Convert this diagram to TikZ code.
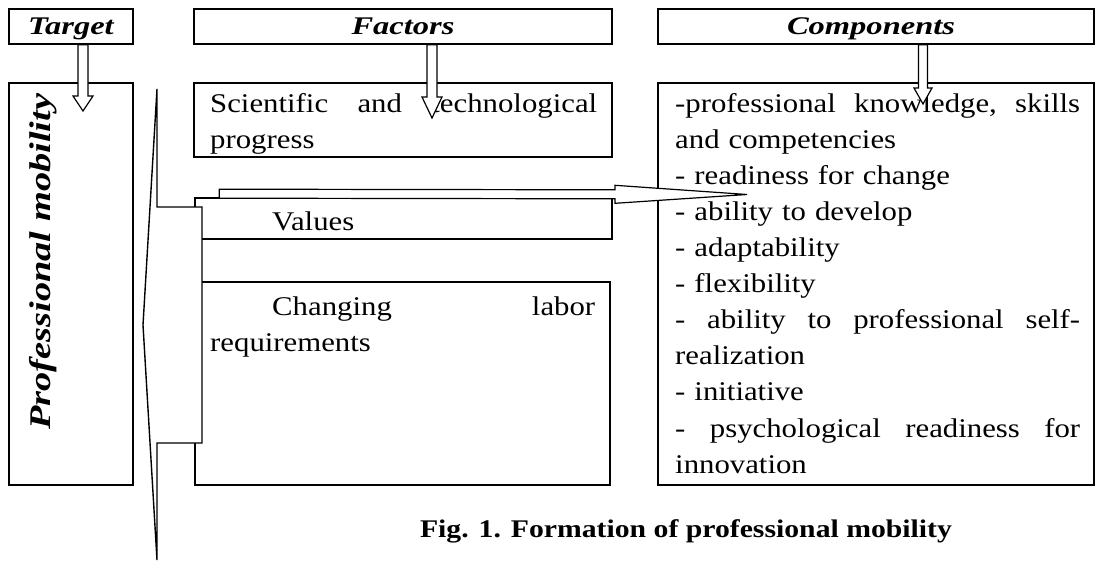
\documentclass[tikz,border=0pt]{standalone}
\usepackage{fontspec}
\setmainfont{Liberation Serif}[
  UprightFeatures={FakeStretch=1.14},
  BoldFeatures={FakeStretch=1.17},
  ItalicFeatures={FakeStretch=1.1},
  BoldItalicFeatures={FakeStretch=1.28}]
\usetikzlibrary{calc}

\tikzset{
  box/.style={draw, line width=1.6pt, rectangle, inner sep=0pt, fill=white},
  headbox/.style={box, minimum height=35pt, text height=23pt, text depth=6pt,
    font=\fontsize{25.4}{30}\selectfont\bfseries\itshape},
  txt/.style={inner sep=0pt, anchor=north west, align=left,
    font=\fontsize{27}{36.1}\selectfont},
  hollow/.style={draw, fill=white, line width=1.2pt, line join=miter},
  bracket/.style={draw, fill=white, line width=1.4pt, line join=miter},
}

% hollow block arrow: start, tip, shaft half width, head half width, head length
\newcommand\hollowarrow[5]{%
  \coordinate (#1-hb) at ($(#2)!#5pt!(#1)$);
  \draw[hollow] ($(#1)!#3pt!90:(#2)$) -- ($(#1-hb)!#3pt!90:(#2)$)
    -- ($(#1-hb)!#4pt!90:(#2)$) -- (#2) -- ($(#1-hb)!#4pt!-90:(#2)$)
    -- ($(#1-hb)!#3pt!-90:(#2)$) -- ($(#1)!#3pt!-90:(#2)$) -- cycle;
}
% a fully justified line of given width
\newcommand\jline[2]{\leavevmode\hbox to #1{#2}}

\begin{document}
\begin{tikzpicture}[x=1pt, y=-1pt]
\useasboundingbox (0,0) rectangle (1099,561);

% column headers
\node[headbox, minimum width=124pt] (tgt) at (71,26.5) {Target};
\node[headbox, minimum width=418pt] (fac) at (403,26.5) {Factors};
\node[headbox, minimum width=436pt] (comp) at (876,26.5) {Components\hspace*{10pt}};

% target column
\node[box, minimum width=124pt, minimum height=402pt] (pm) at (71,284) {};
\node[rotate=90, anchor=base west, inner sep=0pt,
      font=\fontsize{30}{34}\selectfont\bfseries\itshape] (pm-t) at (50,430)
      {Professional mobility};

% factor boxes
\node[box, minimum width=418pt, minimum height=74pt] (sci) at (403,120) {};
\node[txt, text width=387pt] (sci-t) at (210,86)
  {\noindent\rule{0pt}{26pt}\jline{387pt}{Scientific\hfill and\hfill technological}\\progress};

\node[box, minimum width=417pt, minimum height=41pt] (val) at (403.5,218.5) {};
\node[txt] (val-t) at (272,204) {\rule{0pt}{26pt}Values};

\node[box, minimum width=415pt, minimum height=203pt] (chg) at (402.5,383.5) {};
\node[txt, text width=385pt] (chg-t) at (210,289)
  {\noindent\rule{0pt}{26pt}\jline{385pt}{\hspace*{62pt}Changing\hfill labor}\\requirements};

% components list
\node[box, minimum width=436pt, minimum height=402pt] (list) at (876,284) {};
\node[txt, text width=405pt] (list-t) at (675,86)
  {\noindent\rule{0pt}{26pt}\jline{405pt}{-professional\hfill knowledge,\hfill skills}\\
   and competencies\\
   - readiness for change\\
   - ability to develop\\
   - adaptability\\
   - flexibility\\
   \jline{405pt}{-\hfill ability\hfill to\hfill professional\hfill self-}\\
   realization\\
   - initiative\\
   \jline{405pt}{-\hfill psychological\hfill readiness\hfill for}\\
   innovation};

% bracket joining the factors
\draw[bracket] (157,89) -- (143,325) -- (157,560) -- (157,443) -- (202,443)
  -- (202,207) -- (157,207) -- cycle;

% block arrows
\coordinate (a1s) at ([xshift=12pt]tgt.south);
\coordinate (a1t) at (83,111);
\hollowarrow{a1s}{a1t}{5}{10}{15}

\coordinate (a2s) at ([xshift=29pt]fac.south);
\coordinate (a2t) at (432,118);
\hollowarrow{a2s}{a2t}{5}{10}{21}

\coordinate (a3s) at ([xshift=47pt]comp.south);
\coordinate (a3t) at (923,104);
\hollowarrow{a3s}{a3t}{4.5}{9}{16}

\coordinate (a4s) at ([xshift=25pt, yshift=3.5pt]val.north west);
\coordinate (a4t) at (747,194.5);
\hollowarrow{a4s}{a4t}{4.5}{9}{132}

% caption
\node[anchor=base, inner sep=0pt, font=\fontsize{25.4}{30}\selectfont\bfseries]
  (cap) at (686,537) {Fig. 1. Formation of professional mobility};
\end{tikzpicture}
\end{document}
